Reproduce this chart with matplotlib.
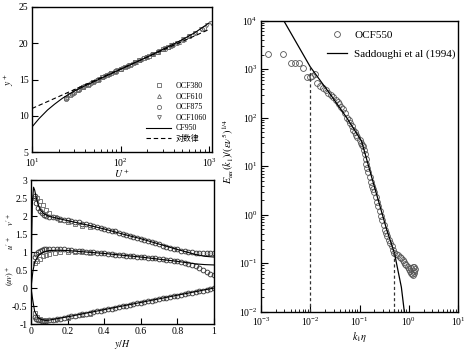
import matplotlib
matplotlib.use("Agg")
import matplotlib.pyplot as plt
from matplotlib.ticker import LogLocator, NullFormatter

plt.rcParams['font.family'] = ['Liberation Serif', 'Noto Sans CJK SC', 'DejaVu Sans']
plt.rcParams['mathtext.fontset'] = 'stix'
plt.rcParams['axes.linewidth'] = 1.0

# ---------------- top-left: mean velocity ----------------
loglaw_x = [10, 1000]
loglaw_y = [11.0, 21.9]
cf950_x = [10, 12, 15, 18, 22, 26, 30, 35, 40, 50, 60, 80, 100, 150, 200, 300, 400, 500, 700, 1000]
cf950_y = [8.45, 9.6, 10.8, 11.6, 12.4, 12.95, 13.4, 13.8, 14.15, 14.7, 15.15, 15.85, 16.4, 17.4,
           18.1, 19.15, 19.9, 20.5, 21.5, 22.8]

ocf380_x = [24, 27, 30, 34, 38, 43, 49, 55, 62, 70, 79, 89, 100, 113, 128, 144, 163, 184, 208, 235, 265, 300, 340, 380]
ocf380_y = [12.4, 12.9, 13.3, 13.7, 14.0, 14.3, 14.7, 15.0, 15.3, 15.6, 15.9, 16.2, 16.45, 16.75, 17.05,
            17.35, 17.65, 17.95, 18.25, 18.55, 18.85, 19.15, 19.5, 19.8]
ocf610_x = [25, 29, 33, 38, 44, 50, 57, 65, 75, 86, 99, 114, 131, 150, 172, 198, 227, 261, 300, 345, 396, 455, 523, 600]
ocf610_y = [12.6, 13.2, 13.6, 14.0, 14.4, 14.8, 15.1, 15.45, 15.8, 16.1, 16.45, 16.8, 17.1, 17.45, 17.8,
            18.1, 18.45, 18.8, 19.15, 19.5, 19.85, 20.2, 20.6, 21.0]
ocf875_x = [24, 28, 33, 39, 46, 54, 63, 74, 87, 102, 120, 141, 165, 194, 228, 268, 315, 370, 434, 510, 599, 703, 826, 875]
ocf875_y = [12.3, 13.0, 13.6, 14.1, 14.5, 14.95, 15.35, 15.75, 16.15, 16.5, 16.9, 17.3, 17.65, 18.05,
            18.45, 18.85, 19.25, 19.65, 20.1, 20.5, 20.95, 21.4, 21.9, 22.1]
ocf1060_x = [26, 31, 36, 42, 49, 57, 67, 78, 91, 106, 124, 145, 170, 199, 233, 272, 318, 372, 435, 509,
             595, 696, 814, 952, 1060]
ocf1060_y = [12.8, 13.4, 13.85, 14.3, 14.7, 15.1, 15.5, 15.9, 16.25, 16.6, 16.95, 17.35, 17.75, 18.1,
             18.5, 18.9, 19.3, 19.7, 20.1, 20.55, 20.95, 21.45, 21.95, 22.5, 22.8]

# ---------------- bottom-left: rms and shear stress ----------------
urms_line_x = [0, 0.004, 0.008, 0.014, 0.02, 0.03, 0.04, 0.05, 0.07, 0.1, 0.15, 0.2, 0.3, 0.4, 0.5,
               0.6, 0.7, 0.8, 0.9, 0.95, 1.0]
urms_line_y = [0, 1.5, 2.4, 2.8, 2.72, 2.48, 2.3, 2.18, 2.06, 1.99, 1.93, 1.87, 1.76, 1.64, 1.5,
               1.37, 1.22, 1.07, 0.93, 0.88, 0.86]
vrms_line_x = [0, 0.01, 0.02, 0.04, 0.07, 0.1, 0.15, 0.2, 0.3, 0.4, 0.5, 0.6, 0.7, 0.8, 0.9, 0.95, 1.0]
vrms_line_y = [0, 0.45, 0.72, 0.9, 1.0, 1.04, 1.05, 1.04, 1.0, 0.96, 0.91, 0.86, 0.8, 0.74, 0.67, 0.65, 0.64]
uv_line_x = [0, 0.01, 0.02, 0.04, 0.06, 0.08, 0.1, 0.2, 0.4, 0.6, 0.8, 1.0]
uv_line_y = [0, -0.35, -0.65, -0.83, -0.88, -0.9, -0.89, -0.8, -0.6, -0.4, -0.2, 0.0]

prof_x = [0.02, 0.03, 0.04, 0.05, 0.06, 0.07, 0.08, 0.1, 0.12, 0.14, 0.16, 0.18, 0.2, 0.22, 0.24, 0.26,
          0.28, 0.3, 0.32, 0.34, 0.36, 0.38, 0.4, 0.42, 0.44, 0.46, 0.48, 0.5, 0.52, 0.54, 0.56, 0.58,
          0.6, 0.62, 0.64, 0.66, 0.68, 0.7, 0.72, 0.74, 0.76, 0.78, 0.8, 0.82, 0.84, 0.86, 0.88, 0.9,
          0.92, 0.94, 0.96, 0.98, 1.0]
prof_u = [2.55, 2.35, 2.22, 2.14, 2.08, 2.04, 2.01, 1.98, 1.96, 1.94, 1.92, 1.9, 1.88, 1.86, 1.84, 1.82,
          1.79, 1.77, 1.75, 1.72, 1.7, 1.67, 1.65, 1.62, 1.59, 1.57, 1.54, 1.51, 1.48, 1.45, 1.42, 1.39,
          1.36, 1.33, 1.3, 1.27, 1.24, 1.21, 1.18, 1.15, 1.12, 1.09, 1.07, 1.04, 1.02, 1.0, 0.99, 0.98,
          0.97, 0.97, 0.97, 0.97, 0.97]
prof_v = [0.85, 0.95, 1.0, 1.04, 1.06, 1.07, 1.08, 1.08, 1.08, 1.08, 1.07, 1.07, 1.06, 1.05, 1.04, 1.03,
          1.02, 1.01, 1.0, 0.99, 0.98, 0.97, 0.96, 0.95, 0.94, 0.93, 0.92, 0.91, 0.9, 0.89, 0.88, 0.87,
          0.86, 0.85, 0.84, 0.83, 0.82, 0.81, 0.8, 0.79, 0.77, 0.76, 0.74, 0.72, 0.7, 0.67, 0.64, 0.6,
          0.56, 0.51, 0.45, 0.39, 0.35]
prof_uv = [-0.8, -0.86, -0.89, -0.9, -0.91, -0.91, -0.91, -0.9, -0.88, -0.87, -0.85, -0.83, -0.81, -0.79,
           -0.77, -0.75, -0.73, -0.71, -0.69, -0.67, -0.65, -0.63, -0.61, -0.59, -0.57, -0.55, -0.53,
           -0.51, -0.49, -0.47, -0.45, -0.43, -0.41, -0.39, -0.37, -0.35, -0.33, -0.31, -0.29, -0.27,
           -0.25, -0.23, -0.21, -0.19, -0.17, -0.15, -0.13, -0.11, -0.09, -0.07, -0.05, -0.03, -0.01]
sq_x = [0.02, 0.035, 0.05, 0.065, 0.08, 0.1, 0.13, 0.16, 0.2, 0.24, 0.28, 0.32]
sq_u = [2.5, 2.5, 2.42, 2.3, 2.17, 2.08, 1.97, 1.9, 1.83, 1.78, 1.73, 1.69]
sq_v = [0.7, 0.75, 0.8, 0.88, 0.92, 0.95, 0.98, 1.0, 1.0, 1.0, 0.99, 0.98]
sq_uv = [-0.7, -0.8, -0.85, -0.88, -0.89, -0.9, -0.88, -0.86, -0.82, -0.79, -0.75, -0.72]

# ---------------- right: spectrum ----------------
sadd_k = [0.0025, 0.01, 0.027, 0.055, 0.11, 0.174, 0.355, 0.513, 0.708, 0.813]
sadd_E = [13000, 1120, 280, 100, 33, 6.3, 0.5, 0.16, 0.032, 0.01]
ocf550_k = [0.00138, 0.00275, 0.0041, 0.0050, 0.0060, 0.0072, 0.0085, 0.0098, 0.011, 0.0125, 0.014,
            0.016, 0.018, 0.0205, 0.023, 0.026, 0.029, 0.033, 0.036, 0.038, 0.042, 0.046, 0.05, 0.055,
            0.06, 0.065, 0.07, 0.075, 0.08, 0.085, 0.09, 0.1, 0.105, 0.11, 0.117, 0.123, 0.128, 0.133,
            0.138, 0.145, 0.151, 0.16, 0.17, 0.18, 0.19, 0.2, 0.215, 0.23, 0.24, 0.255, 0.276, 0.29,
            0.31, 0.33, 0.35, 0.37, 0.4, 0.42, 0.45, 0.48, 0.51, 0.55, 0.6, 0.65, 0.7, 0.75, 0.8, 0.85,
            0.9, 0.95, 1.0, 1.05, 1.1, 1.15, 1.2, 1.25, 1.3, 1.35, 1.3, 1.2, 1.1]
ocf550_E = [2040, 2040, 1350, 1350, 1350, 1050, 680, 680, 740, 800, 520, 460, 410, 365, 320, 290, 265,
            235, 210, 195, 165, 150, 125, 100, 88, 76, 66, 56, 50, 45, 40, 34, 30, 28, 26, 22, 18, 14,
            11, 9, 7.6, 6.0, 4.8, 3.9, 3.4, 3.0, 2.3, 1.8, 1.5, 1.2, 0.95, 0.76, 0.6, 0.48, 0.41, 0.36,
            0.3, 0.26, 0.23, 0.19, 0.166, 0.155, 0.145, 0.135, 0.125, 0.115, 0.105, 0.097, 0.09, 0.083,
            0.077, 0.07, 0.064, 0.06, 0.058, 0.062, 0.068, 0.075, 0.082, 0.085, 0.08]
cut_k = [0.01, 0.5]
cut_E = [1150, 0.17]

W, H = 470, 353
fig = plt.figure(figsize=(W / 100, H / 100), dpi=100)

def box(x0, y0, x1, y1):
    return [x0 / W, 1 - y1 / H, (x1 - x0) / W, (y1 - y0) / H]

mk_col = '#666666'
tick_kw = dict(direction='in', top=False, right=False, labelsize=7, pad=2.5)

# top-left
ax1 = fig.add_axes(box(32, 7, 212, 152))
ax1.set_xscale('log')
ax1.plot(ocf380_x, ocf380_y, ls='none', marker='s', ms=2.8, mfc='none', mec=mk_col, mew=0.6, label='OCF380')
ax1.plot(ocf610_x, ocf610_y, ls='none', marker='^', ms=2.8, mfc='none', mec=mk_col, mew=0.6, label='OCF610')
ax1.plot(ocf875_x, ocf875_y, ls='none', marker='o', ms=3.0, mfc='none', mec=mk_col, mew=0.6, label='OCF875')
ax1.plot(ocf1060_x, ocf1060_y, ls='none', marker='v', ms=2.8, mfc='none', mec=mk_col, mew=0.6, label='OCF1060')
ax1.plot(cf950_x, cf950_y, color='black', lw=0.8, label='CF950')
ax1.plot(loglaw_x, loglaw_y, color='black', lw=0.8, ls=(0, (4, 2.5)), label='对数律')
ax1.set_xlim(10, 1080)
ax1.set_ylim(5, 25)
ax1.set_yticks([5, 10, 15, 20, 25])
ax1.tick_params(which='major', length=4, **tick_kw)
ax1.tick_params(axis='x', which='major', pad=3.5)
ax1.tick_params(which='minor', length=2, direction='in', top=False, right=False)
ax1.set_xlabel(r'$U^+$', fontsize=7, labelpad=-1)
ax1.set_ylabel(r'$y^+$', fontsize=7, labelpad=2)
ax1.legend(loc='lower right', bbox_to_anchor=(1.0, 0.03), frameon=False, fontsize=5.7,
           handlelength=3.2, handletextpad=0.6, labelspacing=0.32, borderaxespad=0.2)

# bottom-left
ax2 = fig.add_axes(box(31, 180, 214, 324))
for ys in (prof_u, prof_v, prof_uv):
    ax2.plot(prof_x, ys, ls='none', marker='o', ms=3.4, mfc='none', mec='#3a3a3a', mew=0.65)
for ys in (sq_u, sq_v, sq_uv):
    ax2.plot(sq_x, ys, ls='none', marker='s', ms=3.0, mfc='none', mec=mk_col, mew=0.6)
ax2.plot(urms_line_x, urms_line_y, color='black', lw=0.8)
ax2.plot(vrms_line_x, vrms_line_y, color='black', lw=0.8)
ax2.plot(uv_line_x, uv_line_y, color='black', lw=0.8)
ax2.set_xlim(0, 1)
ax2.set_ylim(-1, 3)
ax2.set_xticks([0, 0.2, 0.4, 0.6, 0.8, 1])
ax2.set_xticklabels(['0', '0.2', '0.4', '0.6', '0.8', '1'])
ax2.set_yticks([-1, -0.5, 0, 0.5, 1, 1.5, 2, 2.5, 3])
ax2.set_yticklabels(['-1', '-0.5', '0', '0.5', '1', '1.5', '2', '2.5', '3'])
ax2.tick_params(which='major', length=4, **tick_kw)
ax2.set_xlabel(r'$y/H$', fontsize=7, labelpad=1)
fig.text(10 / W, 1 - 219 / H, r"$v'^+$", rotation=90, fontsize=6, ha='center', va='center')
fig.text(10 / W, 1 - 243 / H, r"$u'^+$", rotation=90, fontsize=6, ha='center', va='center')
fig.text(10 / W, 1 - 276 / H, r"$(uv)^+$", rotation=90, fontsize=6, ha='center', va='center')

# right
ax3 = fig.add_axes(box(261, 20.7, 458, 311.7))
ax3.set_xscale('log')
ax3.set_yscale('log')
ax3.plot(ocf550_k, ocf550_E, ls='none', marker='o', ms=4.2, mfc='none', mec='#555555', mew=0.6, label='OCF550')
ax3.plot(sadd_k, sadd_E, color='black', lw=0.9, label='Saddoughi et al (1994)')
for k, e in zip(cut_k, cut_E):
    ax3.plot([k, k], [0.01, e], color='#333333', lw=0.9, ls=(0, (2.5, 2)))
ax3.set_xlim(1e-3, 10)
ax3.set_ylim(1e-2, 1e4)
ax3.xaxis.set_minor_locator(LogLocator(base=10, subs=range(2, 10), numticks=20))
ax3.yaxis.set_minor_locator(LogLocator(base=10, subs=range(2, 10), numticks=20))
ax3.xaxis.set_minor_formatter(NullFormatter())
ax3.yaxis.set_minor_formatter(NullFormatter())
ax3.tick_params(which='major', length=5, **tick_kw)
ax3.tick_params(which='minor', length=2.5, direction='in', top=False, right=False)
ax3.set_xlabel(r'$k_1\eta$', fontsize=7.5, labelpad=2)
ax3.set_ylabel(r'$E_{uu}(k_1)/(\varepsilon\nu^5)^{1/4}$', fontsize=7.5)
ax3.yaxis.set_label_coords(-0.125, 0.55)
ax3.legend(loc='upper right', bbox_to_anchor=(1.0, 0.975), frameon=False, fontsize=8,
           handlelength=1.8, handletextpad=0.7, labelspacing=0.85, borderaxespad=0.0,
           borderpad=0.2)

fig.savefig('out.png', dpi=100)
